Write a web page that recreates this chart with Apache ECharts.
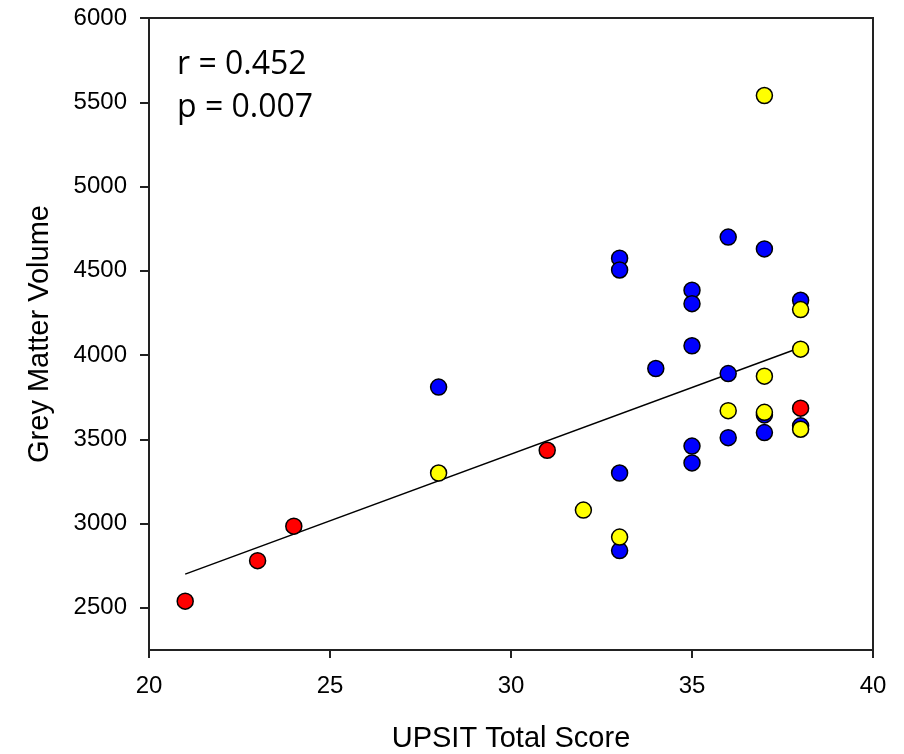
<!DOCTYPE html>
<html lang="en">
<head>
    <meta charset="UTF-8" />
    <title>Grey Matter Volume vs UPSIT</title>
    <script src="https://cdn.jsdelivr.net/npm/echarts@6/dist/echarts.min.js"></script>
</head>
<body style="margin:0;background:#fff">
<div id="main" style="width: 904px;height:754px;"></div>
<script type="text/javascript">
    // data
    var blueScores  = [28, 33, 33, 33, 33, 34, 35, 35, 35, 35, 35, 36, 36, 36, 37, 37, 37, 38, 38];
    var blueVolumes = [3810, 4575, 4505, 3300, 2840, 3920, 4385, 4305, 4055, 3460, 3360, 4700, 3890, 3510, 4630, 3645, 3540, 4325, 3580];
    var redScores   = [21, 23, 24, 31, 38];
    var redVolumes  = [2540, 2780, 2985, 3435, 3685];
    var yellowScores  = [28, 32, 33, 36, 37, 37, 37, 38, 38, 38];
    var yellowVolumes = [3300, 3080, 2920, 3670, 5540, 3875, 3660, 4270, 4035, 3560];
    var fitScores  = [21, 38];
    var fitVolumes = [2700, 4045];
    var yTicks = [2500, 3000, 3500, 4000, 4500, 5000, 5500, 6000];
    var statLines = ['r = 0.452', 'p = 0.007'];

    function pairs(xs, ys) {
        var out = [];
        for (var i = 0; i < xs.length; i++) {
            out.push([xs[i], ys[i]]);
        }
        return out;
    }

    var dot = function (color, xs, ys) {
        return {
            type: 'scatter',
            symbolSize: 16,
            itemStyle: { color: color, borderColor: '#000', borderWidth: 1.5, opacity: 1 },
            data: pairs(xs, ys),
            z: 3
        };
    };

    var plain = function (v) { return String(v); };

    var myChart = echarts.init(document.getElementById('main'));
    var option = {
        animation: false,
        backgroundColor: '#fff',
        textStyle: { fontFamily: 'Liberation Sans, Arial, sans-serif' },
        grid: {
            left: 149, top: 18, right: 31, bottom: 104,
            outerBoundsMode: 'none',
            containLabel: false,
            show: true, borderColor: '#222', borderWidth: 2
        },
        xAxis: {
            type: 'value',
            min: 20, max: 40, interval: 5,
            name: 'UPSIT Total Score',
            nameLocation: 'middle',
            nameGap: 74,
            nameTextStyle: { fontSize: 29, color: '#000' },
            axisLine: { lineStyle: { color: '#222', width: 2 } },
            axisTick: { inside: false, length: 8, lineStyle: { color: '#222', width: 2 } },
            axisLabel: { fontSize: 24, color: '#000', margin: 24, formatter: plain },
            splitLine: { show: false }
        },
        yAxis: {
            type: 'value',
            min: 2250, max: 6000,
            name: 'Grey Matter Volume',
            nameLocation: 'middle',
            nameGap: 95,
            nameTextStyle: { fontSize: 29, color: '#000' },
            axisLine: { lineStyle: { color: '#222', width: 2 } },
            axisTick: { length: 9, customValues: yTicks, lineStyle: { color: '#222', width: 2 } },
            axisLabel: { fontSize: 24, color: '#000', margin: 22, customValues: yTicks, formatter: plain },
            splitLine: { show: false }
        },
        graphic: [
            {
                type: 'text', left: 177, top: 49,
                style: { text: statLines[0], font: '32px "Open Sans"', fill: '#000' }
            },
            {
                type: 'text', left: 177, top: 92,
                style: { text: statLines[1], font: '32px "Open Sans"', fill: '#000' }
            }
        ],
        series: [
            {
                type: 'line',
                data: pairs(fitScores, fitVolumes),
                symbol: 'none',
                lineStyle: { color: '#000', width: 1.5 },
                z: 2
            },
            dot('#0000ff', blueScores, blueVolumes),
            dot('#ff0000', redScores, redVolumes),
            dot('#ffff00', yellowScores, yellowVolumes)
        ]
    };
    myChart.setOption(option);
</script>
</body>
</html>
